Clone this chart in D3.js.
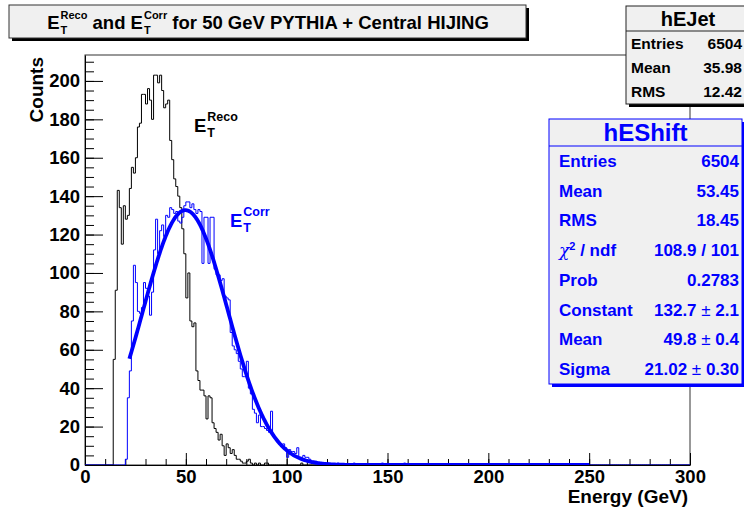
<!DOCTYPE html>
<html><head><meta charset="utf-8">
<script src="https://cdn.jsdelivr.net/npm/d3@7"></script>
<style>
body{margin:0;background:#fff;}
svg{display:block;font-family:"Liberation Sans",Arial,Helvetica,sans-serif;font-weight:bold;}
text{white-space:pre;}
</style></head><body>
<svg id="c" width="744" height="511"></svg>
<script>
// ---------- data ----------
const xDomain = [0, 300];
const yDomain = [0, 213.5];
const xMajorTicks = [0, 50, 100, 150, 200, 250, 300];
const yMajorTicks = [0, 20, 40, 60, 80, 100, 120, 140, 160, 180, 200];
const nBins = 300;

// hEJet (E_T^Reco), 1 GeV bins starting at bin 14
const recoFirstBin = 14;
const recoCounts = [55, 91, 143, 134, 115, 135, 128, 130, 144, 155,
  152, 160, 176, 178, 193, 193, 188, 196, 190, 180,
  203, 203, 199, 203, 195, 186, 188, 190, 169, 159,
  149, 145, 140, 134, 123, 110, 87, 100, 75, 72,
  74, 49, 44, 39, 39, 36, 24, 36, 35, 22,
  19, 17, 13, 16, 10, 5, 11, 9, 6, 8,
  5, 3, 3, 2, 1, 1, 2, 3, 1, 0,
  1, 0, 1, 0, 0, 1, 1, 0, 0, 0,
  0, 0, 0, 0, 0, 0, 0, 0, 0, 0,
  0, 0, 0, 1];

// hEShift (E_T^Corr), 1 GeV bins starting at bin 20
const corrFirstBin = 20;
const corrCounts = [3, 35, 49, 75, 104, 95, 80, 79, 82, 95,
  92, 88, 78, 90, 112, 128, 110, 122, 125, 119,
  130, 129, 134, 133, 131, 132, 127, 126, 129, 135,
  137, 137, 134, 136, 133, 131, 133, 132, 105, 129,
  129, 105, 129, 129, 102, 99, 99, 96, 97, 88,
  87, 86, 69, 62, 60, 58, 54, 50, 46, 46,
  54, 40, 37, 29, 27, 22, 26, 20, 20, 19,
  18, 17, 28, 15, 14, 12, 11, 10, 11, 9,
  4, 8, 7, 7, 6, 9, 4, 4, 5, 4,
  4, 3, 2, 2, 2, 1, 1, 1, 1, 0,
  1, 0, 0, 0, 0, 1, 0, 0, 0, 0,
  0, 0, 0, 1, 0, 0, 0, 0, 0, 0,
  0, 0, 0, 0, 0, 0, 0, 1, 0, 0,
  0, 0, 0, 0, 0, 0, 0, 0, 1];

// Gaussian fit of hEShift
const fitConstant = 132.7;
const fitMean = 49.8;
const fitSigma = 21.02;
const fitRange = [22, 250];

// stat boxes
const ejetTitle = "hEJet";
const ejetLabels = ["Entries", "Mean", "RMS"];
const ejetValues = ["6504", "35.98", "12.42"];
const shiftTitle = "hEShift";
const shiftLabels = ["Entries", "Mean", "RMS", "chi2", "Prob", "Constant", "Mean", "Sigma"];
const shiftValues = ["6504", "53.45", "18.45", "108.9 / 101", "0.2783", "132.7 ± 2.1", "49.8 ± 0.4", "21.02 ± 0.30"];

// ---------- layout ----------
const W = 744, H = 511;
const frame = {l: 85, r: 690, t: 55, b: 465};
const BLUE = "#0000ff";

const svg = d3.select("#c");
svg.append("rect").attr("width", W).attr("height", H).attr("fill", "#fff");

const x = d3.scaleLinear().domain(xDomain).range([frame.l, frame.r]);
const y = d3.scaleLinear().domain(yDomain).range([frame.b, frame.t]);

// frame
svg.append("rect").attr("x", frame.l).attr("y", frame.t)
  .attr("width", frame.r - frame.l).attr("height", frame.b - frame.t)
  .attr("fill", "#fff").attr("stroke", "#333").attr("stroke-width", 1);

// clip
svg.append("clipPath").attr("id", "clip").append("rect")
  .attr("x", frame.l).attr("y", frame.t - 2)
  .attr("width", frame.r - frame.l).attr("height", frame.b - frame.t + 2);

// axes minor
svg.append("g").attr("transform", `translate(0,${frame.b})`)
  .call(d3.axisBottom(x).tickValues(d3.range(0, 301, 10)).tickSize(-6).tickSizeOuter(0).tickFormat(""))
  .call(g => g.select(".domain").remove())
  .call(g => g.selectAll("line").attr("stroke", "#000"));
svg.append("g").attr("transform", `translate(${frame.l},0)`)
  .call(d3.axisLeft(y).tickValues(d3.range(0, 211, 5)).tickSize(-9).tickSizeOuter(0).tickFormat(""))
  .call(g => g.select(".domain").remove())
  .call(g => g.selectAll("line").attr("stroke", "#000"));

// axes major
const xAxis = svg.append("g").attr("transform", `translate(0,${frame.b})`)
  .call(d3.axisBottom(x).tickValues(xMajorTicks).tickSize(-12).tickSizeOuter(0).tickPadding(5).tickFormat(d3.format("d")));
xAxis.selectAll("text").attr("font-size", 18.5).attr("font-family", null).attr("fill", "#000");
xAxis.select(".domain").attr("stroke", "#000");
const yAxis = svg.append("g").attr("transform", `translate(${frame.l},0)`)
  .call(d3.axisLeft(y).tickValues(yMajorTicks).tickSize(-18).tickSizeOuter(0).tickPadding(5).tickFormat(d3.format("d")));
yAxis.selectAll("text").attr("font-size", 18.5).attr("font-family", null).attr("fill", "#000");
yAxis.select(".domain").attr("stroke", "#000");
svg.selectAll(".tick line").attr("stroke", "#000");

// axis titles
svg.append("text").attr("transform", `translate(43,57) rotate(-90)`)
  .attr("text-anchor", "end").attr("font-size", 19).text("Counts");
svg.append("text").attr("x", 688).attr("y", 503)
  .attr("text-anchor", "end").attr("font-size", 19).text("Energy (GeV)");

// histograms
function fullBins(first, counts) {
  const arr = new Array(nBins).fill(0);
  counts.forEach((c, i) => { arr[first + i] = c; });
  const pts = arr.map((c, i) => [i, c]);
  pts.push([nBins, arr[nBins - 1]]);
  return pts;
}
const stepLine = d3.line().x(d => x(d[0])).y(d => y(d[1])).curve(d3.curveStepAfter);
const plot = svg.append("g").attr("clip-path", "url(#clip)");
plot.append("path").attr("d", stepLine(fullBins(recoFirstBin, recoCounts)))
  .attr("fill", "none").attr("stroke", "#000").attr("stroke-width", 1);
plot.append("path").attr("d", stepLine(fullBins(corrFirstBin, corrCounts)))
  .attr("fill", "none").attr("stroke", BLUE).attr("stroke-width", 1);

// fit curve
const fitPts = d3.range(fitRange[0], fitRange[1] + 0.001, 0.5)
  .map(e => [e, fitConstant * Math.exp(-0.5 * Math.pow((e - fitMean) / fitSigma, 2))]);
plot.append("path").attr("d", d3.line().x(d => x(d[0])).y(d => y(d[1]))(fitPts))
  .attr("fill", "none").attr("stroke", BLUE).attr("stroke-width", 3.8);

// rich text helper: segments {t} or {sup, sub}
function rich(parent, x0, yb, segs, size, small, color, supDy, subDy) {
  const g = parent.append("g").attr("fill", color);
  let cx = x0;
  segs.forEach(s => {
    if (s.t !== undefined) {
      const el = g.append("text").attr("x", cx).attr("y", yb).attr("font-size", size).text(s.t);
      cx += el.node().getComputedTextLength();
    } else {
      const a = g.append("text").attr("x", cx + 1).attr("y", yb - supDy).attr("font-size", small).text(s.sup);
      const b = g.append("text").attr("x", cx + 1).attr("y", yb + subDy).attr("font-size", small).text(s.sub);
      cx += Math.max(a.node().getComputedTextLength(), b.node().getComputedTextLength()) + 1;
    }
  });
  return {g, width: cx - x0};
}

// title box
svg.append("rect").attr("x", 12).attr("y", 8).attr("width", 517).attr("height", 33).attr("fill", "#000");
svg.append("rect").attr("x", 9).attr("y", 5).attr("width", 517).attr("height", 33)
  .attr("fill", "#f0f0f0").attr("stroke", "#333").attr("stroke-width", 1);
const title = rich(svg, 0, 28.5, [
  {t: "E"}, {sup: "Reco", sub: "T"}, {t: " and E"}, {sup: "Corr", sub: "T"},
  {t: " for 50 GeV PYTHIA + Central HIJING"}], 18.5, 11, "#000", 10, 5);
title.g.attr("transform", `translate(${268 - title.width / 2},0)`);

// in-plot labels
rich(svg, 194, 131.5, [{t: "E"}, {sup: "Reco", sub: "T"}], 18.5, 12.5, "#000", 10.5, 5);
rich(svg, 230, 226.5, [{t: "E"}, {sup: "Corr", sub: "T"}], 18.5, 12.5, BLUE, 10.5, 5);

// hEJet stat box
const sj = {x: 626, y: 6, w: 125, h: 98, sep: 31};
svg.append("rect").attr("x", sj.x + 3).attr("y", sj.y + 3).attr("width", sj.w).attr("height", sj.h).attr("fill", "#000");
svg.append("rect").attr("x", sj.x).attr("y", sj.y).attr("width", sj.w).attr("height", sj.h)
  .attr("fill", "#f0f0f0").attr("stroke", "#222");
svg.append("line").attr("x1", sj.x).attr("x2", sj.x + sj.w).attr("y1", sj.sep).attr("y2", sj.sep).attr("stroke", "#222");
svg.append("text").attr("x", 688).attr("y", (sj.y + sj.sep) / 2).attr("dy", "0.36em")
  .attr("text-anchor", "middle").attr("font-size", 20).text(ejetTitle);
const rowJ = (sj.y + sj.h - sj.sep) / ejetLabels.length;
ejetLabels.forEach((l, i) => {
  const cy = sj.sep + rowJ * (i + 0.5);
  svg.append("text").attr("x", 631).attr("y", cy).attr("dy", "0.36em").attr("font-size", 15.5).text(l);
  svg.append("text").attr("x", 742).attr("y", cy).attr("dy", "0.36em").attr("text-anchor", "end")
    .attr("font-size", 15.5).text(ejetValues[i]);
});

// hEShift stat box
const ss = {x: 549, y: 119, w: 193, h: 265, sep: 146};
svg.append("rect").attr("x", ss.x + 3).attr("y", ss.y + 3).attr("width", ss.w).attr("height", ss.h).attr("fill", BLUE);
svg.append("rect").attr("x", ss.x).attr("y", ss.y).attr("width", ss.w).attr("height", ss.h)
  .attr("fill", "#f0f0f0").attr("stroke", BLUE);
svg.append("line").attr("x1", ss.x).attr("x2", ss.x + ss.w).attr("y1", ss.sep).attr("y2", ss.sep).attr("stroke", BLUE);
svg.append("text").attr("x", ss.x + ss.w / 2).attr("y", (ss.y + ss.sep) / 2).attr("dy", "0.36em")
  .attr("text-anchor", "middle").attr("font-size", 24).attr("fill", BLUE).text(shiftTitle);
const rowS = (ss.y + ss.h - ss.sep) / shiftLabels.length;
shiftLabels.forEach((l, i) => {
  const cy = ss.sep + rowS * (i + 0.5);
  const lt = svg.append("text").attr("x", 559).attr("y", cy).attr("dy", "0.36em").attr("font-size", 17).attr("fill", BLUE);
  if (l === "chi2") {
    lt.append("tspan").attr("font-style", "italic").attr("font-weight", "normal").attr("font-family", "DejaVu Serif").text("χ");
    lt.append("tspan").attr("font-size", 11).attr("dy", "-0.6em").text("2");
    lt.append("tspan").attr("dy", "0.39em").text(" / ndf");
  } else {
    lt.text(l);
  }
  const vt = svg.append("text").attr("x", 739).attr("y", cy).attr("dy", "0.36em").attr("text-anchor", "end")
    .attr("font-size", 17).attr("fill", BLUE);
  const v = shiftValues[i];
  if (v.includes("±")) {
    const [a, b] = v.split("±");
    vt.append("tspan").text(a);
    vt.append("tspan").attr("font-weight", "normal").text("±");
    vt.append("tspan").text(b);
  } else {
    vt.text(v);
  }
});
</script>
</body></html>
